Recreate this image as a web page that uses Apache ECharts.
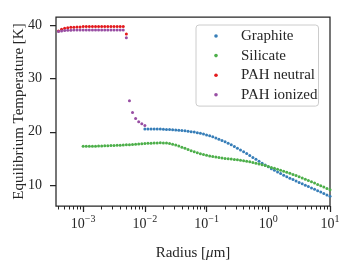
<!DOCTYPE html>
<html>
<head>
<meta charset="utf-8">
<script src="https://cdn.jsdelivr.net/npm/echarts@6/dist/echarts.min.js"></script>
<style>html,body{margin:0;padding:0;background:#fff}#c{width:350px;height:261px}</style>
</head>
<body>
<div id="c"></div>
<script>
// Radius grid [μm]
const radius = [
  3.981e-4, 4.467e-4, 5.012e-4, 5.623e-4, 6.310e-4, 7.079e-4, 7.943e-4, 8.913e-4,
  1.000e-3, 1.122e-3, 1.259e-3, 1.413e-3, 1.585e-3, 1.778e-3, 1.995e-3, 2.239e-3, 2.512e-3, 2.818e-3,
  3.162e-3, 3.548e-3, 3.981e-3, 4.467e-3, 5.012e-3, 5.623e-3, 6.310e-3, 7.079e-3, 7.943e-3, 8.913e-3,
  0.01, 0.01122, 0.01259, 0.01413, 0.01585, 0.01778, 0.01995, 0.02239, 0.02512, 0.02818,
  0.03162, 0.03548, 0.03981, 0.04467, 0.05012, 0.05623, 0.06310, 0.07079, 0.07943, 0.08913,
  0.1, 0.1122, 0.1259, 0.1413, 0.1585, 0.1778, 0.1995, 0.2239, 0.2512, 0.2818,
  0.3162, 0.3548, 0.3981, 0.4467, 0.5012, 0.5623, 0.6310, 0.7079, 0.7943, 0.8913,
  1, 1.122, 1.259, 1.413, 1.585, 1.778, 1.995, 2.239, 2.512, 2.818,
  3.162, 3.548, 3.981, 4.467, 5.012, 5.623, 6.310, 7.079, 7.943, 8.913, 10
];
const N = null;
const tempPAHneutral = [
  38.9, 39.2, 39.4, 39.5, 39.6, 39.6, 39.65, 39.65,
  39.7, 39.7, 39.7, 39.7, 39.7, 39.7, 39.7, 39.7, 39.7, 39.7,
  39.7, 39.7, 39.7, 39.7, 38.3, N, N, N, N, N,
  N, N, N, N, N, N, N, N, N, N,
  N, N, N, N, N, N, N, N, N, N,
  N, N, N, N, N, N, N, N, N, N,
  N, N, N, N, N, N, N, N, N, N,
  N, N, N, N, N, N, N, N, N, N,
  N, N, N, N, N, N, N, N, N, N, N
];
const tempPAHionized = [
  38.8, 38.9, 38.95, 39.0, 39.0, 39.05, 39.05, 39.05,
  39.05, 39.05, 39.05, 39.05, 39.05, 39.05, 39.05, 39.05, 39.05, 39.05,
  39.05, 39.05, 39.05, 39.05, 37.6, 25.8, 23.6, 22.5, 21.9, 21.5,
  21.2, N, N, N, N, N, N, N, N, N,
  N, N, N, N, N, N, N, N, N, N,
  N, N, N, N, N, N, N, N, N, N,
  N, N, N, N, N, N, N, N, N, N,
  N, N, N, N, N, N, N, N, N, N,
  N, N, N, N, N, N, N, N, N, N, N
];
const tempSilicate = [
  N, N, N, N, N, N, N, N,
  17.3, 17.3, 17.3, 17.3, 17.3, 17.32, 17.35, 17.37, 17.4, 17.42,
  17.45, 17.47, 17.5, 17.52, 17.55, 17.57, 17.6, 17.65, 17.7, 17.75,
  17.8, 17.83, 17.86, 17.9, 17.92, 17.93, 17.92, 17.88, 17.8, 17.68,
  17.52, 17.33, 17.12, 16.9, 16.68, 16.47, 16.27, 16.08, 15.9, 15.74,
  15.6, 15.48, 15.37, 15.27, 15.18, 15.1, 15.02, 14.95, 14.88, 14.81,
  14.74, 14.67, 14.58, 14.48, 14.37, 14.25, 14.12, 13.98, 13.83, 13.67,
  13.5, 13.33, 13.16, 12.98, 12.8, 12.61, 12.42, 12.22, 12.01, 11.8,
  11.58, 11.36, 11.13, 10.89, 10.65, 10.4, 10.15, 9.9, 9.65, 9.4, 9.15
];
const tempGraphite = [
  N, N, N, N, N, N, N, N,
  N, N, N, N, N, N, N, N, N, N,
  N, N, N, N, N, N, N, N, N, N,
  20.5, 20.52, 20.53, 20.53, 20.52, 20.5, 20.48, 20.45, 20.42, 20.38,
  20.34, 20.29, 20.24, 20.18, 20.11, 20.03, 19.94, 19.84, 19.72, 19.58,
  19.42, 19.25, 19.06, 18.85, 18.62, 18.38, 18.12, 17.85, 17.56, 17.26,
  16.94, 16.61, 16.27, 15.92, 15.56, 15.2, 14.84, 14.48, 14.12, 13.77,
  13.43, 13.1, 12.78, 12.47, 12.17, 11.88, 11.6, 11.32, 11.05, 10.78,
  10.52, 10.26, 10.0, 9.74, 9.48, 9.22, 8.96, 8.7, 8.44, 8.18, 7.92
];
const seriesNames = ['Graphite', 'Silicate', 'PAH neutral', 'PAH ionized'];
const seriesColors = ['#377eb8', '#4daf4a', '#e41a1c', '#984ea3'];
const xMajorTicks = [0.001, 0.01, 0.1, 1, 10];
const xMajorExponents = ['\u22123', '\u22122', '\u22121', '0', '1'];
const xMinorTicks = [
  4e-4, 5e-4, 6e-4, 7e-4, 8e-4, 9e-4,
  2e-3, 3e-3, 4e-3, 5e-3, 6e-3, 7e-3, 8e-3, 9e-3,
  0.02, 0.03, 0.04, 0.05, 0.06, 0.07, 0.08, 0.09,
  0.2, 0.3, 0.4, 0.5, 0.6, 0.7, 0.8, 0.9,
  2, 3, 4, 5, 6, 7, 8, 9
];
const yTicks = [10, 20, 30, 40];

const FONT = 'Liberation Serif';
const INK = '#262626';
function pairs(ys) {
  const out = [];
  ys.forEach((v, i) => { if (v !== null) out.push([radius[i], v]); });
  return out;
}
const allTemps = [tempGraphite, tempSilicate, tempPAHneutral, tempPAHionized];

const chart = echarts.init(document.getElementById('c'), null, {renderer: 'canvas'});
chart.setOption({
  animation: false,
  grid: {left: 56, top: 17, right: 20, bottom: 55, show: true, borderColor: INK, borderWidth: 1.25,
    backgroundColor: 'transparent', containLabel: false, outerBoundsMode: 'none'},
  legend: {
    orient: 'vertical', left: 196, top: 25,
    padding: [1.2, 1, 1.5, 18.2],
    itemGap: 0, itemWidth: 3.6, itemHeight: 3.6, icon: 'circle',
    borderColor: '#cccccc', borderWidth: 1, borderRadius: 3,
    selectedMode: false,
    formatter: function (name) { return '{t|' + name + '}'; },
    textStyle: {fontFamily: FONT, fontSize: 15, color: INK, lineHeight: 19.6,
      rich: {t: {fontFamily: FONT, fontSize: 15, color: INK, lineHeight: 19.6, padding: [0, 0, 0, 18.2]}}},
    data: seriesNames
  },
  xAxis: [{
    type: 'log', logBase: 10, min: 3.63e-4, max: 10,
    axisLine: {show: false},
    splitLine: {show: false},
    axisTick: {show: true, customValues: xMajorTicks, length: 6, lineStyle: {color: INK, width: 1.25}},
    axisLabel: {
      customValues: xMajorTicks, margin: 11, color: INK, fontFamily: FONT,
      formatter: function (v) {
        const e = Math.round(Math.log10(v));
        const idx = xMajorTicks.findIndex(t => Math.round(Math.log10(t)) === e);
        return '{b|10}{s|' + xMajorExponents[idx] + '}';
      },
      rich: {
        b: {fontFamily: FONT, fontSize: 14, lineHeight: 14, verticalAlign: 'bottom', color: INK},
        s: {fontFamily: FONT, fontSize: 10, lineHeight: 10, verticalAlign: 'bottom', padding: [0, 0, 7, 0], color: INK}
      }
    },
    name: 'Radius [{i|\u03bc}m]', nameLocation: 'middle', nameGap: 40, nameMoveOverlap: false,
    nameTextStyle: {fontFamily: FONT, fontSize: 15, color: INK, lineHeight: 15,
      rich: {i: {fontFamily: FONT, fontStyle: 'italic', fontSize: 15, color: INK}}}
  }, {
    type: 'log', logBase: 10, min: 3.63e-4, max: 10, position: 'bottom',
    axisLine: {show: false}, splitLine: {show: false},
    axisTick: {show: true, customValues: xMinorTicks, length: 3.5, lineStyle: {color: INK, width: 1}},
    axisLabel: {show: false}
  }],
  yAxis: {
    type: 'value', min: 6.1, max: 41.5,
    axisLine: {show: false}, splitLine: {show: false},
    axisTick: {show: true, customValues: yTicks, length: 6, lineStyle: {color: INK, width: 1.25}},
    axisLabel: {customValues: yTicks, margin: 14, color: INK, fontFamily: FONT, fontSize: 14},
    name: 'Equilibrium Temperature [K]', nameLocation: 'middle', nameGap: 29, nameRotate: 90, nameMoveOverlap: false,
    nameTextStyle: {fontFamily: FONT, fontSize: 15, color: INK, lineHeight: 15}
  },
  series: seriesNames.map((name, k) => ({
    name: name, type: 'scatter', xAxisIndex: 0, yAxisIndex: 0,
    symbol: 'circle', symbolSize: 3,
    itemStyle: {color: seriesColors[k], opacity: 1},
    emphasis: {disabled: true},
    data: pairs(allTemps[k])
  }))
});
</script>
</body>
</html>
